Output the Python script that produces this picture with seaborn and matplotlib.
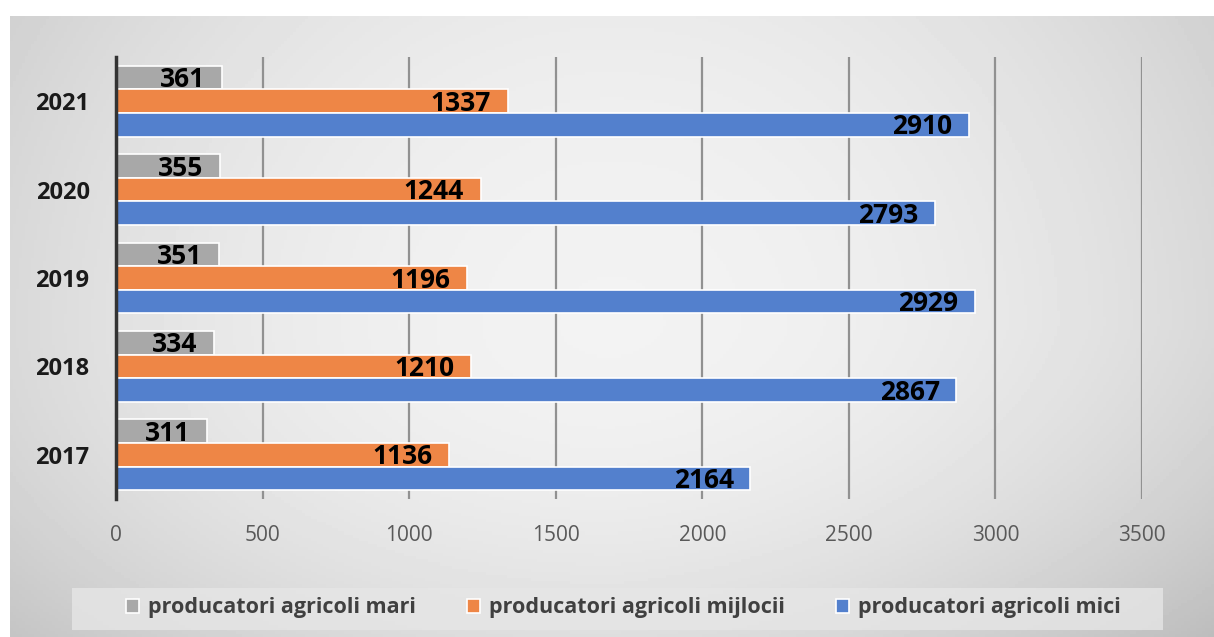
import numpy as np
import pandas as pd
import seaborn as sns
import matplotlib.pyplot as plt
from matplotlib.patches import Rectangle

# data
years = ["2021", "2020", "2019", "2018", "2017"]
mari = [361, 355, 351, 334, 311]
mijlocii = [1337, 1244, 1196, 1210, 1136]
mici = [2910, 2793, 2929, 2867, 2164]
series = ["producatori agricoli mari", "producatori agricoli mijlocii", "producatori agricoli mici"]
colors = ["#A8A8A8", "#EE8646", "#5380CD"]
xticks = [0, 500, 1000, 1500, 2000, 2500, 3000, 3500]

df = pd.DataFrame({
    "an": years * 3,
    "valoare": mari + mijlocii + mici,
    "serie": [series[0]] * 5 + [series[1]] * 5 + [series[2]] * 5,
})

sns.set_theme(style="white")
plt.rcParams["font.family"] = ["Open Sans", "DejaVu Sans"]

fig = plt.figure(figsize=(12.14, 6.37), dpi=100)

# gradient background panel
bg = fig.add_axes([10 / 1214, 0, 1 - 10 / 1214, 1 - 16 / 637])
gx = np.linspace(-1, 1, 400)
gy = np.linspace(-1, 1, 200)
X, Y = np.meshgrid(gx, gy)
shade = (0.95 - 0.10 * X ** 2 - 0.03 * Y ** 2
         - 0.05 * np.clip(Y, 0, None) ** 2 - 0.03 * np.clip(X, 0, None) * np.clip(Y, 0, None))
bg.imshow(shade, cmap="gray", vmin=0, vmax=1, aspect="auto", extent=[0, 1, 0, 1])
bg.axis("off")

# lighter band behind the legend
fig.patches.append(Rectangle((72 / 1214, 1 - 630 / 637), (1163 - 72) / 1214, 42 / 637,
                             transform=fig.transFigure, facecolor="#e6e6e6", edgecolor="none",
                             alpha=0.8, zorder=1))

ax = fig.add_axes([116 / 1214, 1 - 499 / 637, (1142 - 116) / 1214, (499 - 57) / 637])
ax.patch.set_alpha(0)

sns.barplot(data=df, x="valoare", y="an", hue="serie", order=years, hue_order=series,
            palette=colors, orient="h", width=0.8, ax=ax, edgecolor="white", linewidth=1.2,
            saturation=1)

for cont in ax.containers:
    labels = ax.bar_label(cont, padding=-12, fontsize=19, fontweight="bold", color="black")
    for t in labels:
        t.set_ha("right")
        t.set_va("center")
        t.set_y(-1.5)

ax.set_xlim(0, 3500)
ax.set_xticks(xticks)
ax.set_xticklabels([str(v) for v in xticks], fontsize=15, color="#595959")
ax.tick_params(axis="x", length=0, pad=19)
ax.tick_params(axis="y", length=0, pad=19)
for t in ax.get_yticklabels():
    t.set_fontsize(17)
    t.set_fontweight("bold")
    t.set_color("#1a1a1a")
ax.xaxis.grid(True, color="#919191", linewidth=1.6)
ax.set_axisbelow(True)
for s in ["top", "right", "bottom"]:
    ax.spines[s].set_visible(False)
ax.spines["left"].set_color("#333333")
ax.spines["left"].set_linewidth(2.5)
ax.set_xlabel("")
ax.set_ylabel("")

ax.get_legend().remove()
handles, labels = ax.get_legend_handles_labels()
leg = fig.legend(handles, labels, loc="center", bbox_to_anchor=(623.5 / 1214, 1 - 608 / 637), ncol=3,
                 frameon=False, handlelength=0.6, handleheight=0.6,
                 handletextpad=0.4, columnspacing=2.4,
                 prop={"family": ["Open Sans", "DejaVu Sans"], "weight": "bold", "size": 15.5})
for t in leg.get_texts():
    t.set_color("#404040")

fig.savefig("out.png", dpi=100)
